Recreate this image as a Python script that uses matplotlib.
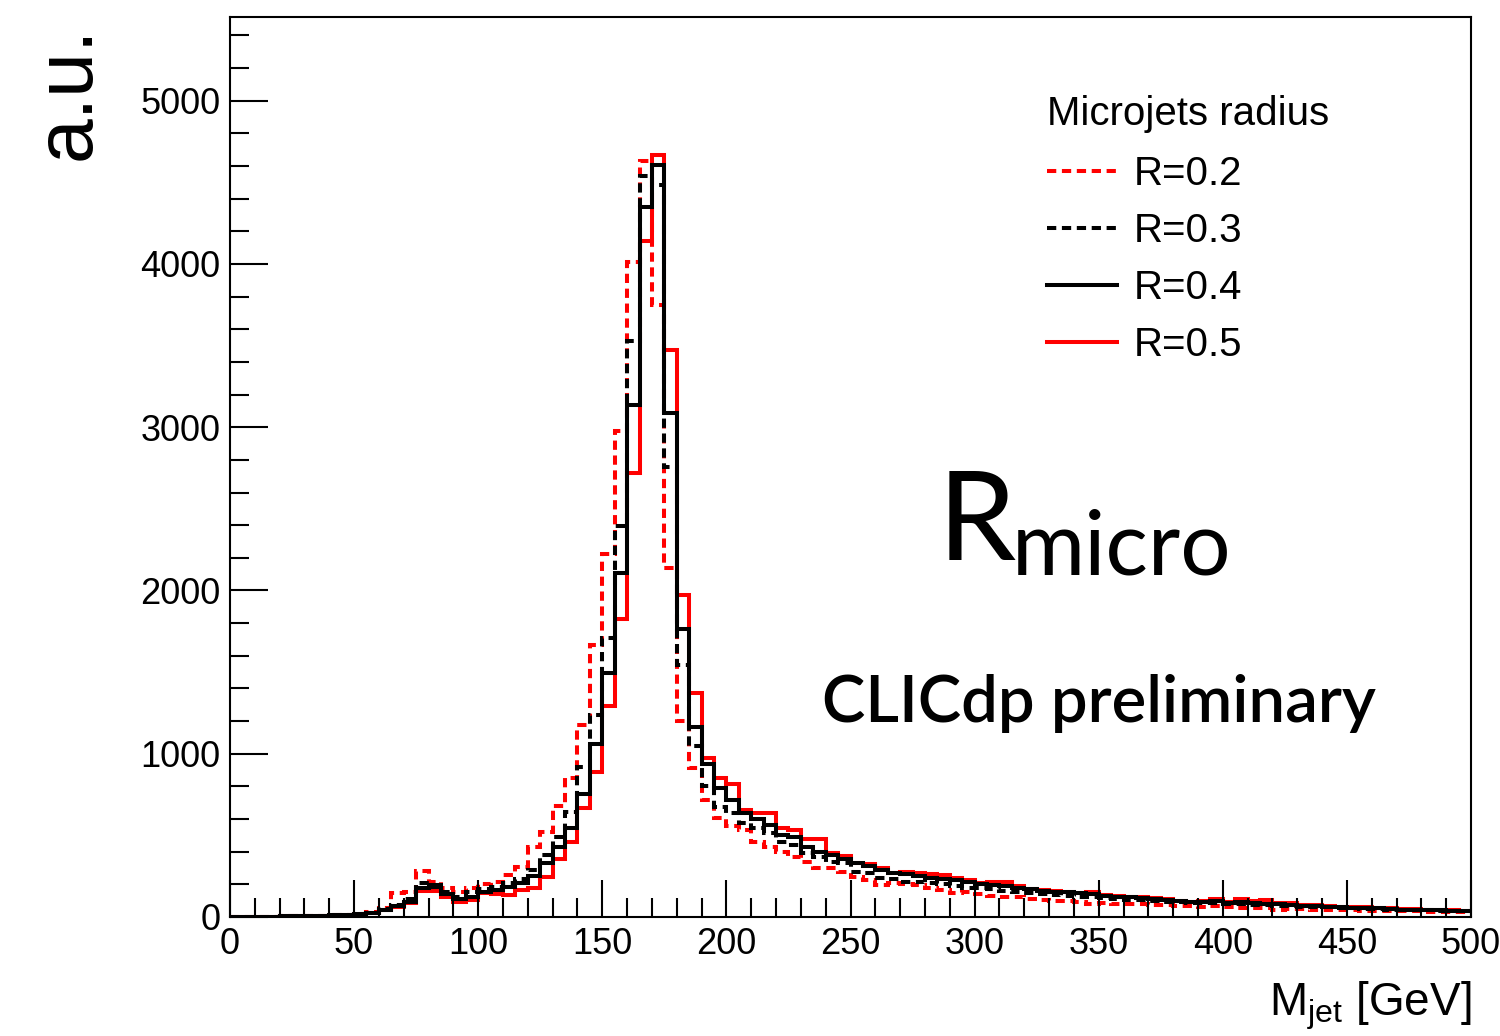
import numpy as np
import matplotlib
matplotlib.use("Agg")
import matplotlib.pyplot as plt
from matplotlib.lines import Line2D

# ---- data: jet mass histograms, 5 GeV bins from 0 to 500 ----
bin_edges = np.arange(0, 505, 5)

# R = 0.2 (red dashed)
r02 = [1, 1, 2, 2, 3, 4, 5, 7, 10, 13, 19, 30,
       55, 149, 150, 284, 216, 175, 150, 180, 200, 215, 260, 308, 431, 520, 680, 850,
       1174, 1667, 2224, 2974, 4015, 4628, 3746, 2139, 1200, 911, 717, 609,
       560, 533, 462, 431, 400, 370, 339, 298, 298, 278, 247, 227, 196, 206,
       200, 196, 176, 165, 145, 150, 140, 130, 124, 120, 110, 104, 100, 98, 94, 80,
       85, 82, 80, 78, 75, 72, 70, 66, 64, 66, 60, 53, 55, 52, 43, 48, 46, 45,
       44, 42, 40, 38, 37, 36, 35, 34, 33, 32, 31, 30]

# R = 0.3 (black dashed)
r03 = [1, 1, 2, 2, 3, 4, 5, 7, 9, 12, 17, 26,
       48, 75, 110, 206, 186, 150, 125, 150, 170, 185, 210, 230, 290, 380, 490, 640,
       920, 1238, 1710, 2396, 3530, 4540, 4485, 2759, 1544, 1050, 800, 676,
       634, 574, 543, 512, 462, 441, 390, 370, 339, 329, 278, 268, 240, 230,
       217, 215, 205, 200, 192, 180, 175, 170, 160, 155, 145, 140, 135, 130, 125, 120,
       115, 110, 106, 102, 98, 94, 90, 86, 84, 88, 78, 82, 76, 74, 70, 68, 64, 60,
       58, 56, 52, 50, 48, 45, 42, 41, 40, 38, 36, 35]

# R = 0.4 (black solid)
r04 = [1, 1, 2, 2, 3, 4, 5, 7, 9, 12, 17, 25,
       45, 65, 94, 176, 196, 140, 108, 124, 150, 166, 186, 205, 250, 330, 431, 547,
       752, 1060, 1495, 2108, 3137, 4352, 4608, 3090, 1764, 1166, 937, 788,
       717, 634, 598, 563, 502, 492, 431, 400, 380, 353, 329, 315, 288, 268,
       262, 250, 240, 232, 225, 215, 200, 195, 190, 175, 170, 160, 155, 150, 145, 140,
       130, 125, 120, 115, 112, 105, 100, 90, 94, 100, 86, 92, 85, 82, 78, 76, 70, 66,
       64, 62, 56, 54, 52, 48, 45, 44, 42, 40, 38, 36]

# R = 0.5 (red solid)
r05 = [1, 1, 2, 2, 3, 4, 5, 6, 8, 11, 15, 22,
       40, 60, 85, 156, 156, 125, 94, 104, 145, 140, 135, 166, 176, 247, 353, 462,
       666, 890, 1293, 1826, 2721, 4138, 4669, 3474, 1973, 1372, 972, 850,
       815, 655, 639, 634, 543, 533, 476, 476, 390, 374, 329, 325, 298, 268,
       275, 270, 262, 255, 240, 228, 205, 215, 215, 187, 170, 165, 160, 150, 148, 150,
       135, 130, 125, 120, 115, 110, 100, 94, 95, 108, 90, 108, 95, 104, 85, 84, 74, 74,
       68, 62, 64, 58, 56, 54, 48, 50, 44, 43, 40, 38]

labels = ["R=0.2", "R=0.3", "R=0.4", "R=0.5"]

plt.rcParams['font.family'] = ['Liberation Sans', 'DejaVu Sans']
plt.rcParams['mathtext.default'] = 'regular'

fig = plt.figure(figsize=(15, 10.36), dpi=100)
ax = fig.add_axes([0.1533, 0.1149, 0.8274, 0.8687])

dash = (0, (2.3, 1.4))
lw = 2.9
# red solid first so the black lines sit on top of it
ax.stairs(r05, bin_edges, baseline=None, color='#ff0000', lw=lw)
ax.stairs(r02, bin_edges, baseline=None, color='#ff0000', lw=lw, linestyle=dash)
ax.stairs(r03, bin_edges, baseline=None, color='black', lw=lw, linestyle=dash)
ax.stairs(r04, bin_edges, baseline=None, color='black', lw=lw)

ax.set_xlim(0, 500)
ax.set_ylim(0, 5513)

## ROOT-like ticks: inside, left/bottom only
ax.set_xticks(np.arange(0, 501, 50))
ax.set_xticks(np.arange(0, 501, 10), minor=True)
ax.set_yticks(np.arange(0, 5001, 1000))
ax.set_yticks(np.arange(0, 5501, 200), minor=True)
ax.tick_params(which='both', direction='in', top=False, right=False, width=1.5)
ax.tick_params(which='major', length=27, labelsize=26, pad=7)
ax.tick_params(which='minor', length=14)
for s in ax.spines.values():
    s.set_linewidth(1.5)

ax.set_xlabel(r'M$_{\mathregular{jet}}$ [GeV]', fontsize=33, loc='right', labelpad=13)
ax.set_ylabel('a.u.', fontsize=58, loc='top')
ax.yaxis.set_label_coords(-0.099, 0.99)

## legend (no frame, ROOT style)
handles = [Line2D([], [], color='#ff0000', lw=lw, linestyle=dash),
           Line2D([], [], color='black', lw=lw, linestyle=dash),
           Line2D([], [], color='black', lw=lw),
           Line2D([], [], color='#ff0000', lw=lw)]
leg = ax.legend(handles, labels, title='Microjets radius', frameon=False,
                fontsize=29, title_fontsize=29, loc='upper left',
                bbox_to_anchor=(0.642, 0.936), handlelength=1.75,
                handletextpad=0.4, labelspacing=0.47, borderpad=0)
leg._legend_box.align = 'left'
leg._legend_box.sep = 16

## annotations
ax.text(0.5705, 0.3967, 'R', transform=ax.transAxes, fontsize=90,
        family=['Lato', 'DejaVu Sans'], va='baseline', ha='left')
ax.text(0.630, 0.38, 'micro', transform=ax.transAxes, fontsize=64,
        family=['Lato', 'DejaVu Sans'], va='baseline', ha='left')
ax.text(0.477, 0.2167, 'CLICdp preliminary', transform=ax.transAxes, fontsize=47,
        family=['Lato', 'DejaVu Sans'], fontweight='semibold', va='baseline', ha='left')

fig.savefig('out.png', dpi=100)
plt.close(fig)
